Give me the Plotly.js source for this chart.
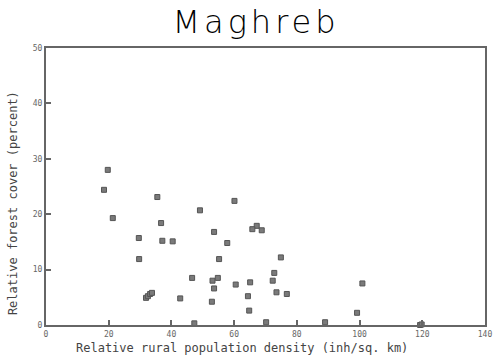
<!DOCTYPE html>
<html>
<head>
<meta charset="utf-8">
<script src="https://cdn.plot.ly/plotly-3.0.1.min.js"></script>
<style>
html,body{margin:0;padding:0;background:#fff;}
#chart{width:500px;height:357px;}
.gtitle{letter-spacing:4px;}
</style>
</head>
<body>
<div id="chart"></div>
<script>
// Relative rural population density (inh/sq. km)
const ruralDensity = [19.7, 18.5, 21.3, 35.5, 36.7, 49.1, 29.6, 37.1, 40.4, 29.7,
  46.6, 31.9, 32.5, 33.2, 33.8, 42.8, 47.3, 60.1, 53.6, 67.2, 65.8, 68.8, 57.8, 55.2,
  74.9, 53.1, 54.8, 53.6, 52.9, 60.5, 65.1, 64.4, 64.8, 72.8, 72.3, 73.5, 76.8,
  70.2, 89.0, 100.9, 99.2, 119.3, 119.8];
// Relative forest cover (percent)
const forestCover = [28.0, 24.4, 19.3, 23.1, 18.4, 20.7, 15.7, 15.2, 15.1, 11.9,
  8.5, 4.9, 5.2, 5.6, 5.8, 4.8, 0.3, 22.4, 16.8, 17.9, 17.3, 17.1, 14.8, 11.9,
  12.2, 8.0, 8.5, 6.6, 4.2, 7.3, 7.7, 5.2, 2.6, 9.4, 8.0, 5.9, 5.6,
  0.5, 0.5, 7.5, 2.2, 0.0, 0.1];

const xTicks = [0, 20, 40, 60, 80, 100, 120, 140];
const yTicks = [0, 10, 20, 30, 40, 50];
const chartTitle = 'Maghreb';
const xTitle = 'Relative rural population density (inh/sq. km)';
const yTitle = 'Relative forest cover (percent)';

const axisCommon = {
  showgrid: false, zeroline: false, showline: true, mirror: true,
  linecolor: '#666', linewidth: 2,
  ticks: 'inside', ticklen: 5, tickwidth: 2, tickcolor: '#666',
  tickfont: {family: 'DejaVu Sans Mono', size: 8, color: '#666'}
};
const labelFont = {family: 'DejaVu Sans Mono', size: 12, color: '#444'};

Plotly.newPlot('chart', [{
  type: 'scatter', mode: 'markers',
  x: ruralDensity, y: forestCover,
  marker: {symbol: 'square', size: 5, color: '#7a7a7a', line: {color: '#555', width: 1}},
  cliponaxis: false, hoverinfo: 'skip'
}], {
  width: 500, height: 357,
  margin: {l: 46, r: 15, t: 48, b: 32},
  paper_bgcolor: '#fff', plot_bgcolor: '#fff',
  showlegend: false,
  title: {text: chartTitle, x: 0.512, xanchor: 'center', y: 0.94, yanchor: 'middle',
    font: {family: 'DejaVu Sans ExtraLight, DejaVu Sans', weight: 200, size: 32, color: '#000'}},
  xaxis: Object.assign({}, axisCommon, {
    range: [0, 140], tickvals: xTicks, ticktext: xTicks.map(String)
  }),
  yaxis: Object.assign({}, axisCommon, {
    range: [0, 50], tickvals: yTicks, ticktext: yTicks.map(String)
  }),
  annotations: [
    {text: xTitle, xref: 'paper', yref: 'paper', x: 0.446, y: 0, yshift: -23,
     xanchor: 'center', yanchor: 'middle', showarrow: false, font: labelFont},
    {text: yTitle, xref: 'paper', yref: 'paper', x: 0, y: 0.44, xshift: -33,
     textangle: -90, xanchor: 'center', yanchor: 'middle', showarrow: false, font: labelFont}
  ]
}, {displayModeBar: false, staticPlot: true});
</script>
</body>
</html>
